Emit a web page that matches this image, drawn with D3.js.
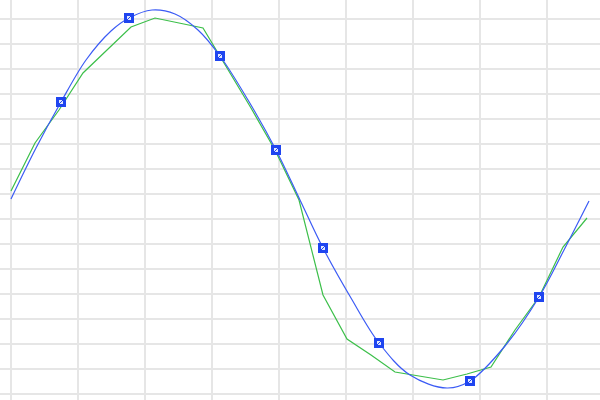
<!DOCTYPE html>
<html lang="en">
    <head>
        <meta charset="utf-8">
        <title>D3</title>
        <script type="text/javascript" src="https://cdnjs.cloudflare.com/ajax/libs/d3/7.8.5/d3.min.js"></script>
        <style type="text/css">
            body { margin: 0; background: #fff; }
        </style>
    </head>
    <body>
        <script type="text/javascript">
            var w = 600;
            var h = 400;

            // grid positions (data units)
            var xTicks = [0, 67, 134, 201, 268, 335, 402, 469, 536];
            var yTicks = [0, 1, 2, 3, 4, 5, 6, 7, 8, 9, 10, 11, 12, 13, 14, 15, 16];

            // green series, sampled every 24 units
            var greenX = [0, 24, 48, 72, 96, 120, 144, 168, 192, 216, 240, 264, 288,
                          312, 336, 360, 384, 408, 432, 456, 480, 504, 528, 552, 576];
            var greenY = [8.12, 10.04, 11.36, 12.84, 13.76, 14.68, 15.04, 14.84, 14.64, 13.04, 11.44, 9.76, 7.76,
                          3.96, 2.2, 1.56, 0.88, 0.72, 0.56, 0.8, 1.08, 2.56, 3.88, 5.88, 7.04];

            // blue smooth series
            var blueX = [0, 25, 50, 75, 100, 118, 141, 164, 187, 209, 237, 265, 289,
                         312, 340, 368, 399, 436, 459, 494, 528, 553, 578];
            var blueY = [7.8, 9.84, 11.68, 13.36, 14.52, 15.04, 15.36, 15.2, 14.56, 13.52, 11.76, 9.76, 7.76,
                         5.84, 3.84, 2.04, 0.76, 0.24, 0.52, 1.92, 3.88, 5.76, 7.72];
            // which blue points carry a marker
            var blueMarked = [2, 5, 9, 11, 13, 15, 18, 20];

            var x = d3.scaleLinear().domain([0, 578]).range([11, 589]);
            var y = d3.scaleLinear().domain([0, 16]).range([394, -6]);

            var svg = d3.select("body")
                        .append("svg")
                        .attr("width", w)
                        .attr("height", h);

            var grid = svg.append("g");
            grid.selectAll("line.v")
                .data(xTicks)
                .enter()
                .append("line")
                .attr("class", "v")
                .attr("x1", function(d) { return x(d); })
                .attr("x2", function(d) { return x(d); })
                .attr("y1", 0)
                .attr("y2", h)
                .attr("stroke", "#e6e6e6")
                .attr("stroke-width", 2);
            grid.selectAll("line.h")
                .data(yTicks)
                .enter()
                .append("line")
                .attr("class", "h")
                .attr("x1", 0)
                .attr("x2", w)
                .attr("y1", function(d) { return y(d); })
                .attr("y2", function(d) { return y(d); })
                .attr("stroke", "#e6e6e6")
                .attr("stroke-width", 2);

            var green = greenX.map(function(d, i) { return [d, greenY[i]]; });
            var blue = blueX.map(function(d, i) { return [d, blueY[i]]; });

            svg.append("path")
               .datum(green)
               .attr("d", d3.line()
                    .x(function(d) { return x(d[0]); })
                    .y(function(d) { return y(d[1]); }))
               .attr("fill", "none")
               .attr("stroke", "#3cbf4a")
               .attr("stroke-width", 1.2);

            svg.append("path")
               .datum(blue)
               .attr("d", d3.line()
                    .curve(d3.curveCatmullRom.alpha(0.5))
                    .x(function(d) { return x(d[0]); })
                    .y(function(d) { return y(d[1]); }))
               .attr("fill", "none")
               .attr("stroke", "#3b5bf5")
               .attr("stroke-width", 1.2);

            var marks = svg.selectAll("g.mark")
                .data(blueMarked)
                .enter()
                .append("g")
                .attr("class", "mark")
                .attr("transform", function(i) {
                    return "translate(" + x(blueX[i]) + "," + y(blueY[i]) + ")";
                });
            marks.append("rect")
                .attr("x", -5)
                .attr("y", -5)
                .attr("width", 10)
                .attr("height", 10)
                .attr("fill", "#1f45f0");
            marks.append("rect")
                .attr("x", -2)
                .attr("y", -2)
                .attr("width", 4)
                .attr("height", 4)
                .attr("fill", "#dfe6ff");
            marks.append("line")
                .attr("x1", -2)
                .attr("y1", 2)
                .attr("x2", 2)
                .attr("y2", -2)
                .attr("stroke", "#1f45f0")
                .attr("stroke-width", 1);
        </script>
    </body>
</html>
